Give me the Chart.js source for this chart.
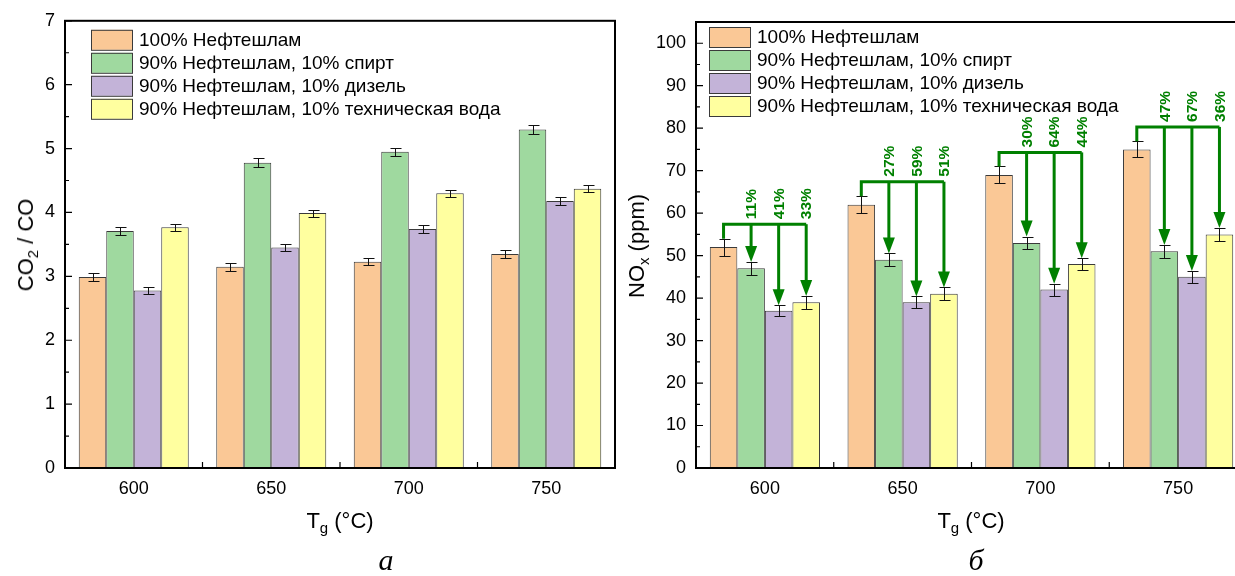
<!DOCTYPE html>
<html><head><meta charset="utf-8">
<script src="https://cdn.jsdelivr.net/npm/chart.js@4.4.1/dist/chart.umd.min.js"></script>
<style>
html,body{margin:0;padding:0;overflow:hidden;background:#fff;width:1235px;height:576px;position:relative;}
.cw{position:absolute;top:0;width:620px;height:576px;}
#w1{left:0;}
#w2{left:631px;}
.t{position:absolute;font-family:'Liberation Sans',Arial,sans-serif;font-size:22px;color:#000;white-space:nowrap;line-height:1;}
.rot{transform:translate(-50%,-50%) rotate(-90deg);}
.hc{transform:translate(-50%,-50%);}
.t sub{font-size:68%;vertical-align:-0.35em;line-height:0;}
.cap{position:absolute;font-family:'Liberation Serif','Times New Roman',serif;font-style:italic;font-size:30px;transform:translate(-50%,-50%);line-height:1;}
</style>
</head><body>
<div class="cw" id="w1"><canvas id="c1" width="620" height="576"></canvas></div>
<div class="cw" id="w2"><canvas id="c2" width="620" height="576"></canvas></div>
<div class="t rot" style="left:26px;top:245px;">CO<sub>2</sub> / CO</div>
<div class="t hc" style="left:340px;top:521px;">T<sub>g</sub> (°C)</div>
<div class="t rot" style="left:637px;top:246px;">NO<sub>x</sub> (ppm)</div>
<div class="t hc" style="left:971px;top:521px;">T<sub>g</sub> (°C)</div>
<div class="cap" style="left:386px;top:560px;">а</div>
<div class="cap" style="left:976px;top:560px;">б</div>
<script>
// ---- data ----
const categories = ['600', '650', '700', '750'];
const seriesLabels = ['100% Нефтешлам', '90% Нефтешлам, 10% спирт', '90% Нефтешлам, 10% дизель', '90% Нефтешлам, 10% техническая вода'];
const seriesColors = ['#FAC896', '#9FD99F', '#C3B3D8', '#FFFF9F'];

// CO2 / CO ratio
const co2coSludge = [2.99, 3.15, 3.23, 3.35];
const co2coAlcohol = [3.71, 4.78, 4.95, 5.30];
const co2coDiesel = [2.78, 3.45, 3.74, 4.18];
const co2coWater = [3.77, 3.99, 4.30, 4.37];
const co2coSludgeErr = [0.06, 0.06, 0.06, 0.06];
const co2coAlcoholErr = [0.065, 0.065, 0.065, 0.065];
const co2coDieselErr = [0.06, 0.06, 0.06, 0.06];
const co2coWaterErr = [0.055, 0.055, 0.055, 0.055];

// NOx (ppm)
const noxSludge = [52, 62, 69, 75];
const noxAlcohol = [47, 49, 53, 51];
const noxDiesel = [37, 39, 42, 45];
const noxWater = [39, 41, 48, 55];
const noxSludgeErr = [2, 2, 2, 1.9];
const noxAlcoholErr = [1.5, 1.5, 1.5, 1.5];
const noxDieselErr = [1.3, 1.4, 1.4, 1.4];
const noxWaterErr = [1.5, 1.5, 1.4, 1.5];

// reduction annotations
const noxBracketLevel = [57.4, 67.4, 74.3, 80.3];
const noxReduction = [['11%', '41%', '33%'], ['27%', '59%', '51%'], ['30%', '64%', '44%'], ['47%', '67%', '36%']];

const yTicksLeft = [0, 1, 2, 3, 4, 5, 6, 7];
const yTicksRight = [0, 10, 20, 30, 40, 50, 60, 70, 80, 90, 100];

const FONT = "'Liberation Sans', Arial, sans-serif";

function makeDatasets(vals, errs) {
  return vals.map((v, i) => ({
    label: seriesLabels[i],
    data: v,
    errors: errs[i],
    backgroundColor: seriesColors[i],
    borderColor: '#3a3a3a',
    borderWidth: 1,
    barPercentage: 1.0,
    categoryPercentage: 0.8
  }));
}

const decor = {
  id: 'decor',
  afterDatasetsDraw(chart, args, o) {
    const ctx = chart.ctx, ys = chart.scales.y;
    ctx.save();
    // error bars
    chart.data.datasets.forEach((ds, i) => {
      chart.getDatasetMeta(i).data.forEach((bar, j) => {
        const v = ds.data[j], e = ds.errors[j];
        const yt = Math.round(ys.getPixelForValue(v + e)) + 0.5;
        const yb = Math.round(ys.getPixelForValue(v - e)) + 0.5;
        const x = Math.round(bar.x) + 0.5;
        ctx.strokeStyle = '#111';
        ctx.lineWidth = 1;
        ctx.beginPath();
        ctx.moveTo(x, yt); ctx.lineTo(x, yb);
        ctx.moveTo(x - 5, yt); ctx.lineTo(x + 6, yt);
        ctx.moveTo(x - 5, yb); ctx.lineTo(x + 6, yb);
        ctx.stroke();
      });
    });
    // reduction arrows
    if (o.brackets) {
      const green = '#008000';
      const ds = chart.data.datasets;
      categories.forEach((c, j) => {
        const b0 = chart.getDatasetMeta(0).data[j];
        const yB = ys.getPixelForValue(o.brackets[j]);
        const y0 = ys.getPixelForValue(ds[0].data[j] + ds[0].errors[j]);
        const b3 = chart.getDatasetMeta(3).data[j];
        ctx.strokeStyle = green; ctx.fillStyle = green;
        ctx.lineWidth = 3; ctx.lineJoin = 'miter'; ctx.lineCap = 'butt';
        ctx.beginPath();
        ctx.moveTo(b0.x, y0); ctx.lineTo(b0.x, yB); ctx.lineTo(b3.x, yB);
        ctx.stroke();
        for (let k = 1; k <= 3; k++) {
          const bk = chart.getDatasetMeta(k).data[j];
          const tip = ys.getPixelForValue(ds[k].data[j] + ds[k].errors[j]);
          const hl = 16, hw = 6;
          ctx.beginPath();
          ctx.moveTo(bk.x, yB); ctx.lineTo(bk.x, tip - hl + 2);
          ctx.stroke();
          ctx.beginPath();
          ctx.moveTo(bk.x - hw, tip - hl); ctx.lineTo(bk.x + hw, tip - hl); ctx.lineTo(bk.x, tip);
          ctx.closePath(); ctx.fill();
          ctx.save();
          ctx.translate(bk.x, yB - 5);
          ctx.rotate(-Math.PI / 2);
          ctx.font = 'bold 15.5px ' + FONT;
          ctx.textAlign = 'left'; ctx.textBaseline = 'middle';
          ctx.fillText(o.labels[j][k - 1], 0, 1);
          ctx.restore();
        }
      });
    }
    ctx.restore();
  },
  afterDraw(chart, args, o) {
    const ctx = chart.ctx, ca = chart.chartArea, xs = chart.scales.x, ys = chart.scales.y;
    ctx.save();
    ctx.strokeStyle = '#000';
    // minor / major ticks (inward)
    ctx.lineWidth = 1.2;
    ctx.beginPath();
    const tv = ys.ticks.map(t => t.value);
    for (let i = 0; i < tv.length; i++) {
      const y = ys.getPixelForValue(tv[i]);
      ctx.moveTo(ca.left, y); ctx.lineTo(ca.left + 7, y);
      if (i < tv.length - 1) {
        const ym = ys.getPixelForValue((tv[i] + tv[i + 1]) / 2);
        ctx.moveTo(ca.left, ym); ctx.lineTo(ca.left + 4, ym);
      }
    }
    for (let i = 0; i < categories.length - 1; i++) {
      const x = (xs.getPixelForValue(i) + xs.getPixelForValue(i + 1)) / 2;
      ctx.moveTo(x, ca.bottom); ctx.lineTo(x, ca.bottom - 6);
    }
    ctx.stroke();
    // frame
    ctx.lineWidth = 2;
    ctx.strokeRect(ca.left, ca.top, ca.right - ca.left, ca.bottom - ca.top);
    // legend
    const lg = o.legend;
    ctx.font = '19px ' + FONT;
    ctx.textAlign = 'left'; ctx.textBaseline = 'middle';
    chart.data.datasets.forEach((ds, i) => {
      const bx = ca.left + lg.dx, by = ca.top + lg.dy + i * 23;
      ctx.fillStyle = ds.backgroundColor;
      ctx.fillRect(bx, by, 41, 20);
      ctx.lineWidth = 1; ctx.strokeStyle = '#3a3a3a';
      ctx.strokeRect(bx + 0.5, by + 0.5, 41, 20);
      ctx.fillStyle = '#000';
      ctx.fillText(ds.label, bx + 48, by + 11);
    });
    ctx.restore();
  }
};

function makeChart(id, vals, errs, yMax, yTicks, padTop, padRight, plugOpts) {
  return new Chart(document.getElementById(id), {
    type: 'bar',
    data: { labels: categories, datasets: makeDatasets(vals, errs) },
    options: {
      responsive: false, animation: false,
      layout: { padding: { top: padTop, right: padRight, left: 0, bottom: 0 } },
      plugins: { legend: { display: false }, tooltip: { enabled: false }, decor: plugOpts },
      scales: {
        x: {
          grid: { display: false, drawTicks: false }, border: { display: false },
          ticks: { font: { family: FONT, size: 18 }, color: '#000', padding: 10 },
          afterFit(s) { s.height = 108; }
        },
        y: {
          min: 0, max: yMax,
          grid: { display: false, drawTicks: false }, border: { display: false },
          ticks: { font: { family: FONT, size: 18 }, color: '#000', padding: 10 },
          afterBuildTicks(s) { s.ticks = yTicks.map(v => ({ value: v })); },
          afterFit(s) { s.width = 65; }
        }
      }
    },
    plugins: [decor]
  });
}

makeChart('c1',
  [co2coSludge, co2coAlcohol, co2coDiesel, co2coWater],
  [co2coSludgeErr, co2coAlcoholErr, co2coDieselErr, co2coWaterErr],
  7, yTicksLeft, 20, 5, { legend: { dx: 26, dy: 9 } });

makeChart('c2',
  [noxSludge, noxAlcohol, noxDiesel, noxWater],
  [noxSludgeErr, noxAlcoholErr, noxDieselErr, noxWaterErr],
  105, yTicksRight, 22, 4, { legend: { dx: 13, dy: 5 }, brackets: noxBracketLevel, labels: noxReduction });
</script>
</body></html>
